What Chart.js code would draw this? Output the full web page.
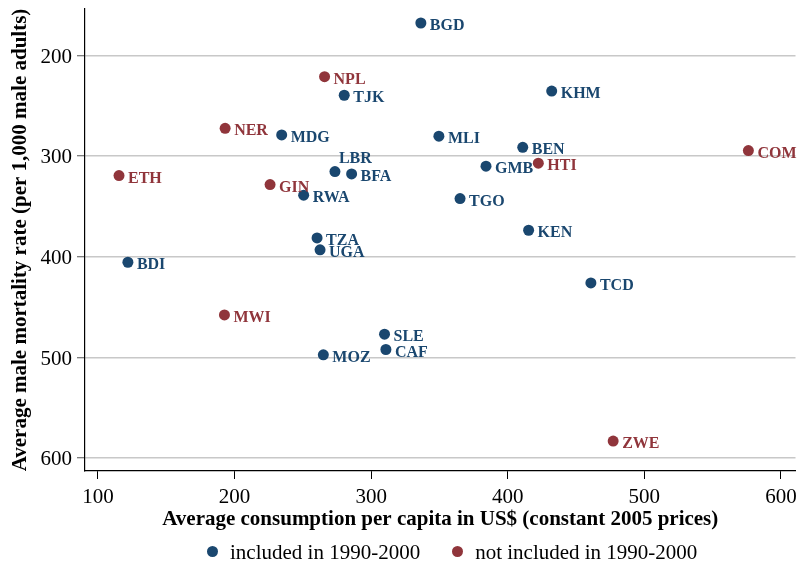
<!DOCTYPE html>
<html>
<head>
<meta charset="utf-8">
<script src="https://cdn.jsdelivr.net/npm/chart.js@4"></script>
<style>
html, body { margin: 0; padding: 0; background: #fff; }
#wrap { position: relative; width: 801px; height: 567px; }
#legend {
    position: absolute;
    top: 540px;
    left: 207px;
    height: 24px;
    display: flex;
    align-items: center;
    font-family: "Liberation Serif", "Times New Roman", serif;
    font-size: 21px;
    color: #000;
    white-space: nowrap;
}
#legend .item { display: flex; align-items: center; }
#legend .item + .item { margin-left: 32px; }
#legend .dot { width: 11px; height: 11px; border-radius: 50%; margin-right: 12px; margin-top: -2px; }
</style>
</head>
<body>
<div id="wrap">
    <canvas id="chart" width="801" height="567"></canvas>
    <div id="legend"></div>
</div>
<script>
// Countries included in 1990-2000
const inCodes = ['BGD', 'TJK', 'MDG', 'LBR', 'BFA', 'RWA', 'KHM', 'MLI', 'BEN', 'GMB',
    'TGO', 'KEN', 'TCD', 'BDI', 'TZA', 'UGA', 'SLE', 'CAF', 'MOZ'];
const inConsumption = [336.4, 280.3, 234.5, 273.5, 285.7, 250.6, 432.2, 349.6, 411.0, 384.1,
    365.1, 415.3, 460.9, 121.9, 260.4, 262.6, 309.8, 310.8, 265.0];
const inMortality = [167.9, 239.7, 279.1, 315.5, 317.9, 339.0, 235.5, 280.4, 291.4, 310.2,
    342.3, 373.8, 426.1, 405.6, 381.4, 393.3, 477.1, 492.3, 497.6];

// Countries not included in 1990-2000
const outCodes = ['NPL', 'NER', 'ETH', 'GIN', 'HTI', 'COM', 'MWI', 'ZWE'];
const outConsumption = [265.9, 193.1, 115.4, 226.0, 422.4, 576.2, 192.6, 477.2];
const outMortality = [221.2, 272.5, 319.5, 328.4, 307.2, 294.6, 457.9, 583.3];

const xTicks = [100, 200, 300, 400, 500, 600];
const yTicks = [200, 300, 400, 500, 600];

const BLUE = '#1a476f';
const RED = '#90353b';
const SERIF = '"Liberation Serif", "Times New Roman", serif';

// Labels sitting above-right of the marker instead of to the right
const labelAbove = ['LBR'];

const toPoints = (xs, ys) => xs.map((x, i) => ({ x: x, y: ys[i] }));

const pointLabels = {
    id: 'pointLabels',
    afterDatasetsDraw(chart) {
        const ctx = chart.ctx;
        ctx.save();
        ctx.font = 'bold 16px ' + SERIF;
        ctx.textBaseline = 'middle';
        ctx.textAlign = 'left';
        chart.data.datasets.forEach((ds, i) => {
            const meta = chart.getDatasetMeta(i);
            ctx.fillStyle = ds.backgroundColor;
            meta.data.forEach((pt, j) => {
                const code = ds.codes[j];
                if (labelAbove.includes(code)) {
                    ctx.fillText(code, pt.x + 4, pt.y - 13);
                } else {
                    ctx.fillText(code, pt.x + 9, pt.y + 3);
                }
            });
        });
        ctx.restore();
    }
};

const chart = new Chart(document.getElementById('chart'), {
    type: 'scatter',
    data: {
        datasets: [
            {
                label: 'included in 1990-2000',
                codes: inCodes,
                data: toPoints(inConsumption, inMortality),
                backgroundColor: BLUE,
                borderColor: BLUE,
                pointRadius: 5.5,
                pointHoverRadius: 5.5,
                pointBorderWidth: 0
            },
            {
                label: 'not included in 1990-2000',
                codes: outCodes,
                data: toPoints(outConsumption, outMortality),
                backgroundColor: RED,
                borderColor: RED,
                pointRadius: 5.5,
                pointHoverRadius: 5.5,
                pointBorderWidth: 0
            }
        ]
    },
    options: {
        responsive: false,
        animation: false,
        devicePixelRatio: 1,
        layout: { padding: { left: 0, right: 4, top: 9, bottom: 27 } },
        plugins: {
            tooltip: { enabled: false },
            legend: { display: false }
        },
        scales: {
            x: {
                type: 'linear',
                min: 90.5,
                max: 610.7,
                afterBuildTicks: (scale) => { scale.ticks = xTicks.map(v => ({ value: v })); },
                afterFit: (scale) => {
                    scale.height = 69;
                    scale.paddingLeft = 0;
                    scale.paddingRight = 0;
                },
                grid: { drawOnChartArea: false, tickLength: 8, tickColor: '#000', tickWidth: 1 },
                border: { display: true, color: '#000', width: 1.2 },
                ticks: { font: { family: SERIF, size: 21 }, color: '#000', padding: 6, maxRotation: 0 },
                title: {
                    display: true,
                    text: 'Average consumption per capita in US$ (constant 2005 prices)',
                    font: { family: SERIF, size: 21, weight: 'bold' },
                    color: '#000',
                    padding: { top: 0, bottom: 8 }
                }
            },
            y: {
                type: 'linear',
                reverse: true,
                min: 154,
                max: 613,
                afterBuildTicks: (scale) => { scale.ticks = yTicks.map(v => ({ value: v })); },
                afterFit: (scale) => {
                    scale.width = 85;
                    scale.paddingTop = 0;
                    scale.paddingBottom = 0;
                },
                grid: { color: '#c8c8c8', lineWidth: 1.5, tickLength: 8, tickColor: '#555', tickWidth: 1 },
                border: { display: true, color: '#000', width: 1.2 },
                ticks: { font: { family: SERIF, size: 21 }, color: '#000', padding: 5, labelOffset: 2 },
                title: {
                    display: true,
                    text: 'Average male mortality rate (per 1,000 male adults)',
                    font: { family: SERIF, size: 21, weight: 'bold' },
                    color: '#000',
                    padding: { top: 8, bottom: 0 }
                }
            }
        }
    },
    plugins: [pointLabels]
});

// HTML legend built from the datasets
const legendEl = document.getElementById('legend');
chart.data.datasets.forEach(ds => {
    const item = document.createElement('div');
    item.className = 'item';
    item.innerHTML = `<span class="dot" style="background:${ds.backgroundColor}"></span><span>${ds.label}</span>`;
    legendEl.appendChild(item);
});
</script>
</body>
</html>
